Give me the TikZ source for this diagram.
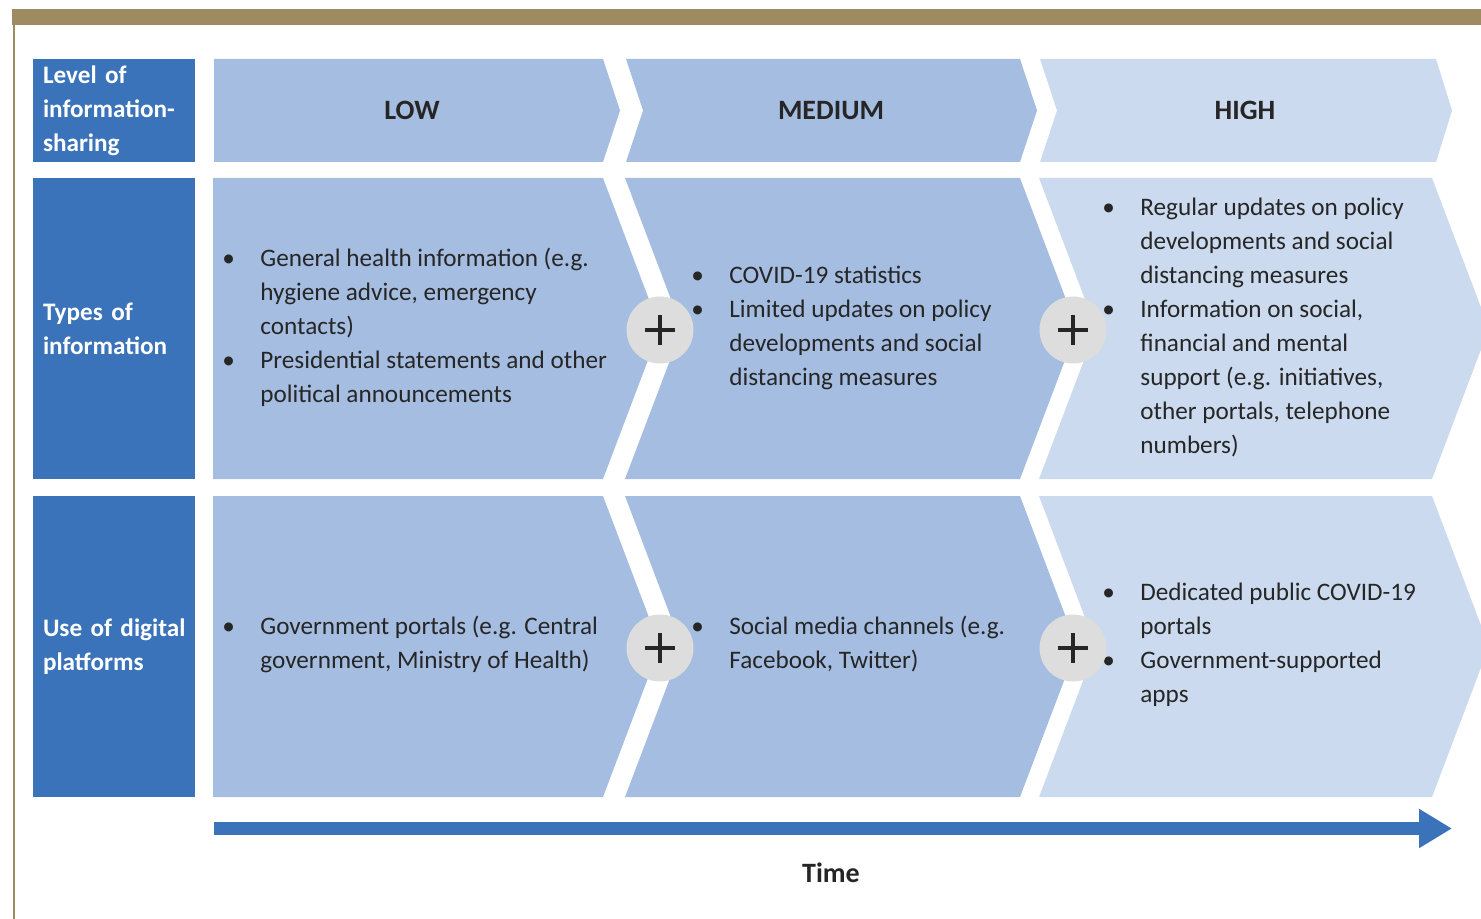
\documentclass[tikz,border=0pt]{standalone}
\usepackage{fontspec}
\setmainfont{Carlito}
\usepackage{tikz}
\usetikzlibrary{arrows.meta,positioning}

\definecolor{darkblue}{HTML}{3A73B9}
\definecolor{midblue}{HTML}{A5BDE1}
\definecolor{paleblue}{HTML}{CBDAEE}
\definecolor{plusgray}{HTML}{DCDDDC}
\definecolor{frame}{HTML}{9F8B61}
\definecolor{ink}{HTML}{262626}

\begin{document}
\begin{tikzpicture}[x=0.5pt,y=-0.5pt]
    \tikzstyle{every node} = [inner sep=0pt, text=ink]
    \tikzstyle{rowhead} = [fill=darkblue, text=white, font=\bfseries\fontsize{12.6}{17}\selectfont, minimum width=81pt, text width=71pt, inner xsep=5pt, align=left]
    \tikzstyle{stage} = [font=\bfseries\fontsize{14}{17}\selectfont]
    \tikzstyle{body} = [anchor=west, font=\fontsize{12.6}{17}\selectfont]
    \tikzstyle{pluscircle} = [circle, fill=plusgray, minimum size=33.5pt,
        path picture={\draw[ink, line width=2pt]
            ([xshift=-7.5pt]path picture bounding box.center) -- ([xshift=7.5pt]path picture bounding box.center)
            ([yshift=-7.5pt]path picture bounding box.center) -- ([yshift=7.5pt]path picture bounding box.center);}]
    \tikzstyle{timeline} = [darkblue, line width=6.5pt, -{Triangle[length=16.5pt, width=18.5pt]}]

    \useasboundingbox (0,0) rectangle (1481,919);
    \clip (0,0) rectangle (1481,919);

    % frame
    \fill[frame] (12,9) rectangle (1481,25);
    \draw[frame, line width=1.25pt] (14,25) -- (14,919);

    % header chevrons
    \fill[midblue] (214,59) -- (603,59) -- (620,110.5) -- (603,162) -- (214,162) -- cycle;
    \fill[midblue] (626,59) -- (1020,59) -- (1037,110.5) -- (1020,162) -- (626,162) -- (643,110.5) -- cycle;
    \fill[paleblue] (1040,59) -- (1436,59) -- (1452,110.5) -- (1436,162) -- (1040,162) -- (1057,110.5) -- cycle;

    % content chevrons
    \foreach \t/\m/\b in {178/328.5/479, 496/646.5/797}{
        \fill[midblue] (213,\t) -- (603,\t) -- (660,\m) -- (603,\b) -- (213,\b) -- cycle;
        \fill[midblue] (625,\t) -- (1020,\t) -- (1077,\m) -- (1020,\b) -- (625,\b) -- (682,\m) -- cycle;
        \fill[paleblue] (1039,\t) -- (1432,\t) -- (1489,\m) -- (1432,\b) -- (1039,\b) -- (1096,\m) -- cycle;
    }

    \node[rowhead, minimum height=51.5pt] (lvl) at (114,110.5) {Level of\\\mbox{information-}\\sharing};
    \node[rowhead, minimum height=150.5pt] (typ) at (114,328.5) {Types of\\information};
    \node[rowhead, minimum height=150.5pt] (use) at (114,646.5) {\mbox{Use of digital}\\platforms};

    \node[stage] (low) at (412,110.5) {LOW};
    \node[stage] (medium) at (831,110.5) {MEDIUM};
    \node[stage] (high) at (1245,110.5) {HIGH};

    \node[body] (typlow) at (222,328) {\begin{tabular}{@{}p{19pt}@{}l@{}}
        \textbullet & General health information (e.g.\\
        & hygiene advice, emergency\\
        & contacts)\\
        \textbullet & Presidential statements and other\\
        & political announcements
    \end{tabular}};
    \node[body] (typmed) at (691,328) {\begin{tabular}{@{}p{19pt}@{}l@{}}
        \textbullet & COVID-19 statistics\\
        \textbullet & Limited updates on policy\\
        & developments and social\\
        & distancing measures
    \end{tabular}};
    \node[body] (typhigh) at (1102,328) {\begin{tabular}{@{}p{19pt}@{}l@{}}
        \textbullet & Regular updates on policy\\
        & developments and social\\
        & distancing measures\\
        \textbullet & Information on social,\\
        & financial and mental\\
        & support (e.g. initiatives,\\
        & other portals, telephone\\
        & numbers)
    \end{tabular}};

    \node[body] (uselow) at (222,645) {\begin{tabular}{@{}p{19pt}@{}l@{}}
        \textbullet & Government portals (e.g. Central\\
        & government, Ministry of Health)
    \end{tabular}};
    \node[body] (usemed) at (691,645) {\begin{tabular}{@{}p{19pt}@{}l@{}}
        \textbullet & Social media channels (e.g.\\
        & Facebook, Twitter)
    \end{tabular}};
    \node[body] (usehigh) at (1102,645) {\begin{tabular}{@{}p{19pt}@{}l@{}}
        \textbullet & Dedicated public COVID-19\\
        & portals\\
        \textbullet & Government-supported\\
        & apps
    \end{tabular}};

    \node[pluscircle] (p1) at (660,330) {};
    \node[pluscircle] (p2) at (1073,330) {};
    \node[pluscircle] (p3) at (660,648) {};
    \node[pluscircle] (p4) at (1073,648) {};

    \coordinate (t0) at (214,828.5);
    \coordinate (t1) at (1452,828.5);
    \draw[timeline] (t0) -- (t1);
    \node[stage] (time) at (831,873) {Time};
\end{tikzpicture}
\end{document}
